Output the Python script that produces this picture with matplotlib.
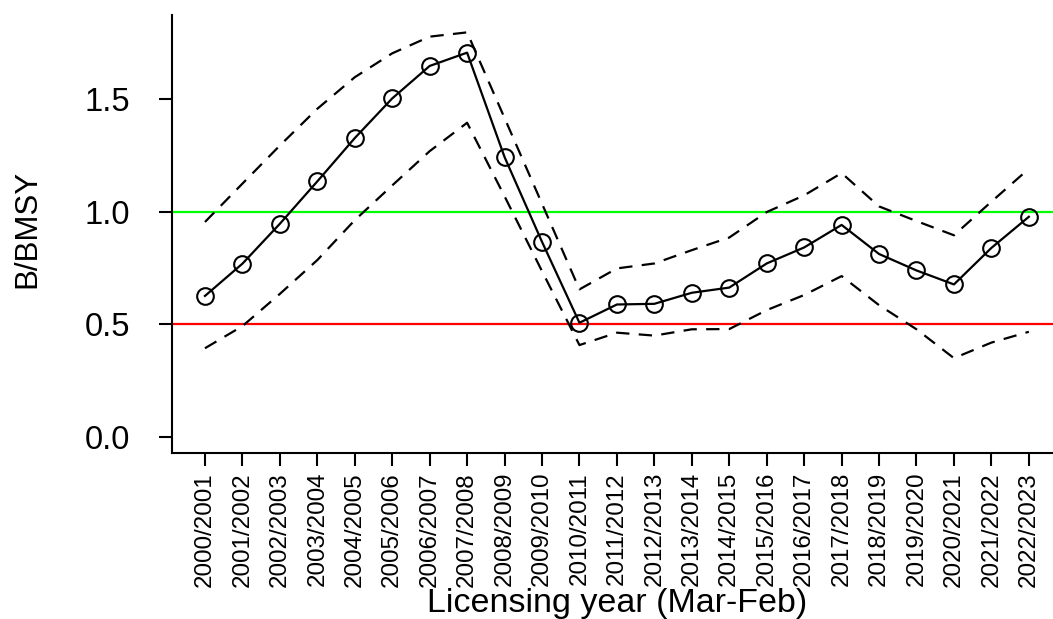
import matplotlib
matplotlib.use("Agg")
import matplotlib.pyplot as plt

# Licensing years (March-February)
years = ["2000/2001", "2001/2002", "2002/2003", "2003/2004", "2004/2005",
         "2005/2006", "2006/2007", "2007/2008", "2008/2009", "2009/2010",
         "2010/2011", "2011/2012", "2012/2013", "2013/2014", "2014/2015",
         "2015/2016", "2016/2017", "2017/2018", "2018/2019", "2019/2020",
         "2020/2021", "2021/2022", "2022/2023"]

# Estimated biomass relative to BMSY with lower / upper bounds
b_bmsy = [0.626, 0.769, 0.946, 1.134, 1.326, 1.502, 1.646, 1.705, 1.242, 0.866,
          0.507, 0.588, 0.591, 0.640, 0.663, 0.770, 0.841, 0.941, 0.812, 0.739,
          0.677, 0.839, 0.977]
upper = [0.954, 1.124, 1.293, 1.456, 1.596, 1.702, 1.776, 1.795, 1.415, 1.035,
         0.655, 0.748, 0.770, 0.829, 0.885, 0.998, 1.072, 1.171, 1.023, 0.958,
         0.895, 1.044, 1.190]
lower = [0.394, 0.492, 0.635, 0.785, 0.962, 1.116, 1.268, 1.394, 1.068, 0.736,
         0.408, 0.463, 0.450, 0.478, 0.479, 0.563, 0.630, 0.714, 0.585, 0.478,
         0.350, 0.419, 0.467]

# Reference points
target = 1.0
limit = 0.5

y_ticks = [0.0, 0.5, 1.0, 1.5]
y_tick_labels = ["0.0", "0.5", "1.0", "1.5"]

plt.rcParams["font.family"] = ["Liberation Sans", "DejaVu Sans"]

W, H = 1053, 619
fig = plt.figure(figsize=(W / 100, H / 100), dpi=100)
# plot region (in pixels): left 172, top 15, bottom 453, right runs past the edge
left_px, top_px, bottom_px, width_px = 172, 15, 453.3, 889.8
ax = fig.add_axes([left_px / W, (H - bottom_px) / H, width_px / W,
                   (bottom_px - top_px) / H])

x = list(range(1, len(years) + 1))

ax.axhline(target, color="#00ff00", lw=1.6, zorder=1)
ax.axhline(limit, color="#ff0000", lw=1.6, zorder=1)

dash = dict(color="black", lw=1.6, linestyle=(0, (6, 4.2)), zorder=2)
ax.plot(x, upper, **dash)
ax.plot(x, lower, **dash)
ax.plot(x, b_bmsy, color="black", lw=1.6, marker="o", markersize=12,
        markerfacecolor="none", markeredgecolor="black", markeredgewidth=1.5,
        zorder=3)

# axis ranges with 4% padding around the data range
n = len(years)
ax.set_xlim(1 - 0.04 * (n - 1), n + 0.04 * (n - 1))
ax.set_ylim(-0.072, 1.872)

for side in ("top", "right"):
    ax.spines[side].set_visible(False)
for side in ("left", "bottom"):
    ax.spines[side].set_linewidth(1.5)

ax.set_xticks(x)
ax.set_xticklabels(years, rotation=90, fontsize=17.4)
ax.set_yticks(y_ticks)
ax.set_yticklabels(y_tick_labels, fontsize=23.5)
ax.tick_params(axis="x", length=9.4, width=1.5, pad=4)
ax.tick_params(axis="y", length=9.4, width=1.5, pad=21)

fig.text(617 / W, (H - 611.7) / H, "Licensing year (Mar-Feb)", fontsize=24.5,
         ha="center", va="baseline")
fig.text(27.5 / W, (H - 229) / H, "B/BMSY", fontsize=22.5, rotation=90,
         ha="center", va="center")

fig.savefig("out.png", dpi=100)
